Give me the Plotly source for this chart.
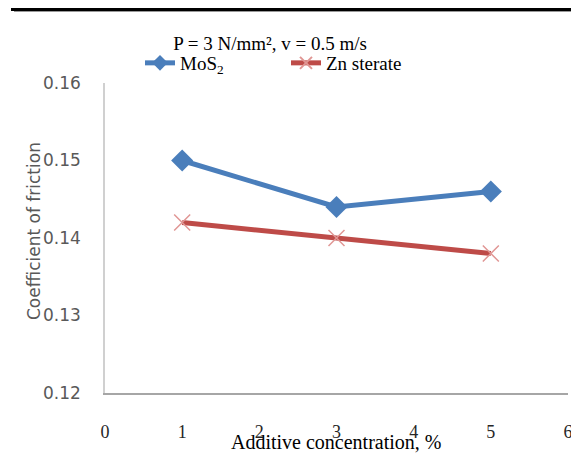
import plotly.graph_objects as go

concentration = [1, 3, 5]
mos2_cof = [0.150, 0.144, 0.146]
zn_cof = [0.142, 0.140, 0.138]
x_ticks = [0, 1, 2, 3, 4, 5, 6]
y_ticks = [0.12, 0.13, 0.14, 0.15, 0.16]

W, H = 579, 454
L, R, T, B = 97, 19, 75, 69
pw, ph = W - L - R, H - T - B

def px_x(p):
    return (p - L) / pw

def px_y(p):
    return (H - B - p) / ph

fig = go.Figure()
fig.add_trace(go.Scatter(
    x=concentration, y=mos2_cof, name="MoS<sub>2</sub>", mode="lines+markers",
    line=dict(color="#4A7EBB", width=5),
    marker=dict(symbol="diamond", size=17, color="#4A7EBB"),
))
fig.add_trace(go.Scatter(
    x=concentration, y=zn_cof, name="Zn sterate", mode="lines+markers",
    line=dict(color="#BE4B48", width=5),
    marker=dict(symbol="x-thin", size=16, line=dict(color="#E09694", width=1.5)),
))

fig.update_layout(
    width=W, height=H,
    margin=dict(l=L, r=R, t=T, b=B),
    paper_bgcolor="white", plot_bgcolor="white",
    showlegend=True,
    legend=dict(orientation="h", x=px_x(132), y=px_y(55), xanchor="left", yanchor="middle",
                font=dict(family="Liberation Serif", size=19, color="black"),
                entrywidth=101, entrywidthmode="pixels", bgcolor="rgba(0,0,0,0)",
                itemsizing="constant"),
    title=dict(text="P = 3 N/mm², v = 0.5 m/s", x=262 / W, xanchor="center",
               y=1 - 35 / H, yanchor="middle", xref="container", yref="container",
               font=dict(family="Liberation Serif", size=19, color="black")),
    xaxis=dict(range=[0, 6], tickvals=x_ticks, showgrid=False, zeroline=False,
               showline=True, linecolor="#A6A6A6", linewidth=1.5, ticks="",
               ticklabelstandoff=22,
               tickfont=dict(family="Liberation Serif", size=18, color="#262626")),
    yaxis=dict(range=[0.12, 0.16], tickvals=y_ticks, tickformat=".2f", showgrid=False,
               zeroline=False, showline=True, linecolor="#D0D0D0", linewidth=1.5, ticks="",
               ticklabelstandoff=19,
               tickfont=dict(family="DejaVu Sans", size=17, color="#595959")),
    annotations=[
        dict(text="Additive concentration, %", xref="paper", yref="paper",
             x=px_x(328), y=px_y(434), xanchor="center", yanchor="middle", showarrow=False,
             font=dict(family="Liberation Serif", size=20, color="black")),
        dict(text="Coefficient of friction", xref="paper", yref="paper",
             x=px_x(26), y=px_y(223), xanchor="center", yanchor="middle", showarrow=False,
             textangle=-90, font=dict(family="DejaVu Sans", size=17, color="#595959")),
    ],
    shapes=[
        dict(type="path", xref="paper", yref="paper",
             path=f"M {px_x(4.5)} {px_y(-60)} L {px_x(4.5)} {px_y(1.5)} L {px_x(700)} {px_y(1.5)}",
             line=dict(color="black", width=3)),
        dict(type="line", xref="paper", yref="paper",
             x0=px_x(6), x1=px_x(700), y0=px_y(3.5), y1=px_y(3.5),
             line=dict(color="#999999", width=1)),
    ],
)

fig.write_html("out.html")
